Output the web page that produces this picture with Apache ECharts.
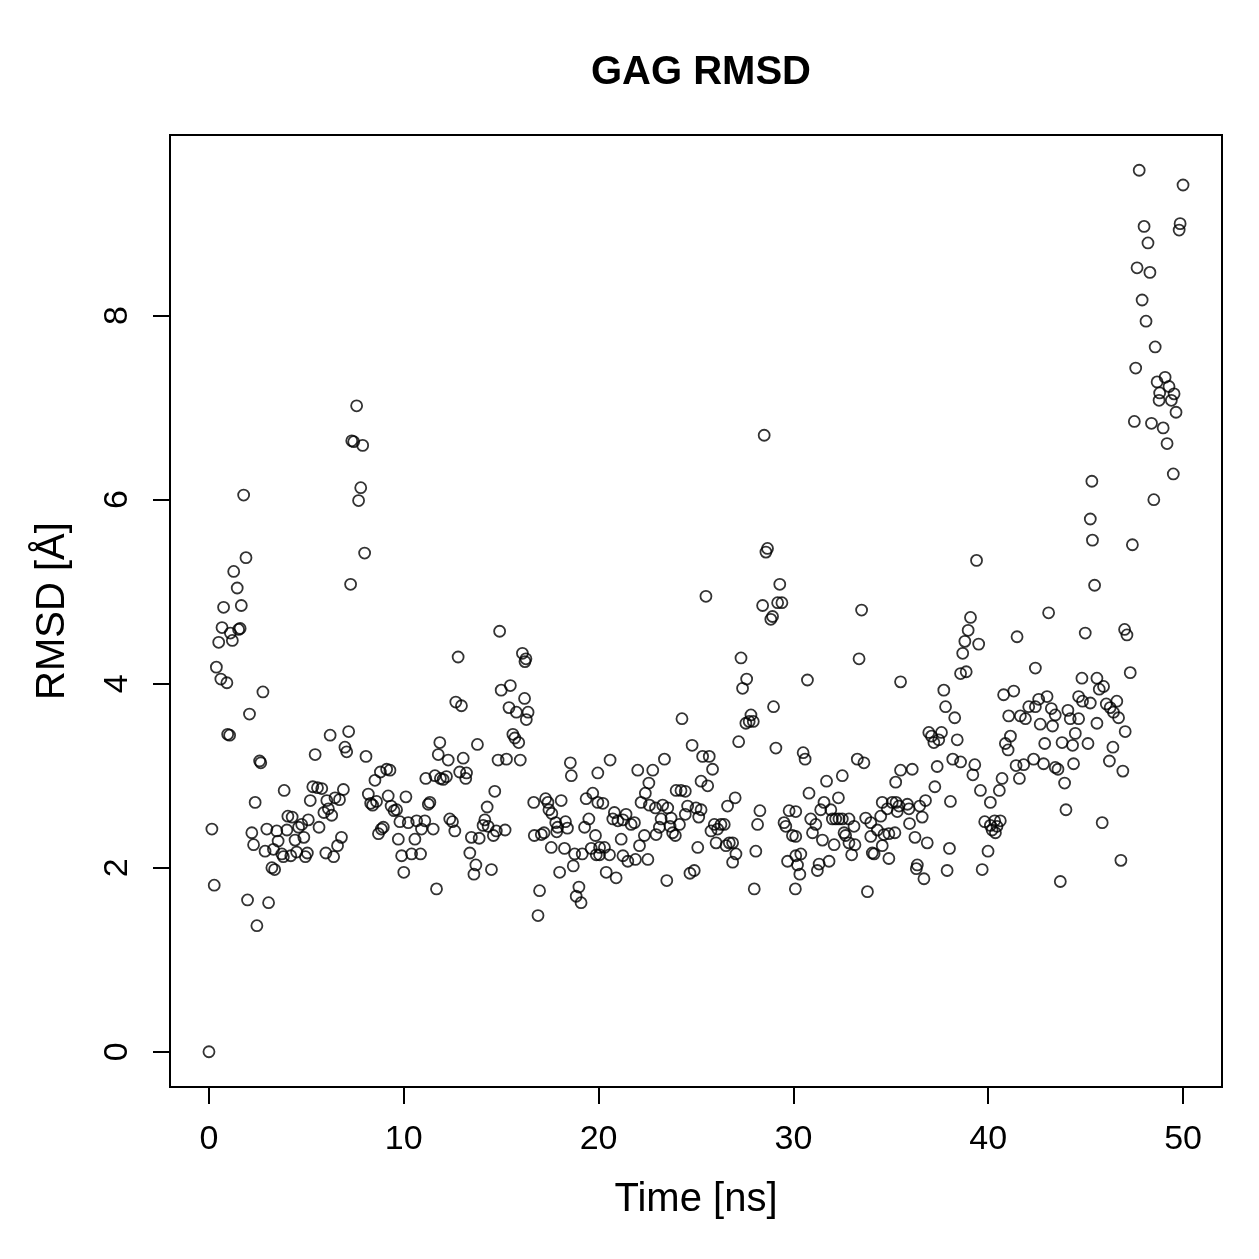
<!DOCTYPE html>
<html>
<head>
<meta charset="utf-8">
<title>GAG RMSD</title>
<script src="https://cdn.jsdelivr.net/npm/echarts@6/dist/echarts.min.js"></script>
<style>
  html, body { margin: 0; padding: 0; background: #fff; }
  #main { width: 1259px; height: 1259px; }
</style>
</head>
<body>
<div id="main"></div>
<script>
// time (ns) and RMSD (A), kept in the same order
var timeNs = [
  // 0 - 4.6
  0, 0.15, 0.27, 0.38, 0.5, 0.61, 0.67, 0.75, 0.92, 0.96, 1.06, 1.1, 1.2, 1.27, 1.45, 1.52, 1.6, 1.66, 1.78, 1.9,
  1.98, 2.08, 2.2, 2.29, 2.37, 2.46, 2.6, 2.66, 2.77, 2.88, 2.97, 3.06, 3.23, 3.31, 3.37, 3.48, 3.55, 3.74, 3.82, 3.86,
  4.0, 4.05, 4.2, 4.27, 4.42, 4.5, 4.6,
  // 4.7 - 9.5
  4.76, 4.87, 4.95, 5.05, 5.1, 5.2, 5.33, 5.45, 5.57, 5.65, 5.79, 5.9, 6.0, 6.05, 6.13, 6.22, 6.3, 6.4, 6.47, 6.6,
  6.7, 6.8, 6.9, 6.98, 7.07, 7.17, 7.27, 7.33, 7.43, 7.58, 7.68, 7.79, 7.89, 7.99, 8.06, 8.18, 8.3, 8.4, 8.52, 8.6,
  8.7, 8.8, 8.85, 8.95, 9.12, 9.2, 9.29, 9.35, 9.5,
  // 9.6 - 15
  9.63, 9.72, 9.8, 9.89, 10.0, 10.11, 10.23, 10.4, 10.57, 10.66, 10.86, 10.91, 11.08, 11.13, 11.26, 11.34, 11.51, 11.6, 11.68, 11.77,
  11.85, 11.88, 12.02, 12.19, 12.28, 12.36, 12.5, 12.62, 12.67, 12.79, 12.87, 12.96, 13.05, 13.18, 13.22, 13.39, 13.47, 13.6, 13.7, 13.78,
  13.87, 14.07, 14.16, 14.28, 14.33, 14.5, 14.6, 14.67, 14.75, 14.84, 14.92, 15.0,
  // 15 - 20
  15.2, 15.27, 15.4, 15.47, 15.6, 15.7, 15.78, 15.9, 15.98, 16.09, 16.2, 16.22, 16.27, 16.29, 16.38, 16.67, 16.7, 16.89, 16.97, 17.06,
  17.2, 17.28, 17.4, 17.45, 17.57, 17.6, 17.8, 17.85, 17.9, 18.0, 18.08, 18.25, 18.3, 18.4, 18.55, 18.6, 18.7, 18.77, 18.85, 18.99,
  19.1, 19.16, 19.28, 19.36, 19.5, 19.62, 19.7, 19.84, 19.88, 19.96, 19.96,
  // 20 - 25
  20.05, 20.05, 20.22, 20.3, 20.39, 20.56, 20.59, 20.73, 20.81, 20.9, 20.99, 21.16, 21.25, 21.25, 21.41, 21.5, 21.67, 21.84, 21.89, 22.01,
  22.1, 22.18, 22.35, 22.4, 22.53, 22.58, 22.61, 22.78, 22.92, 22.95, 23.12, 23.21, 23.29, 23.38, 23.5, 23.55, 23.67, 23.72, 23.8, 23.94,
  23.98, 24.15, 24.23, 24.28, 24.45, 24.45, 24.57, 24.69, 24.8, 24.91, 25.14,
  // 25 - 30
  25.0, 25.09, 25.26, 25.26, 25.34, 25.51, 25.6, 25.68, 25.77, 25.85, 25.94, 26.03, 26.11, 26.28, 26.45, 26.54, 26.62, 26.71, 26.88, 26.88,
  27.01, 27.05, 27.19, 27.31, 27.39, 27.56, 27.6, 27.73, 27.82, 27.94, 27.99, 28.07, 28.16, 28.28, 28.42, 28.5, 28.59, 28.67, 28.84, 28.93,
  28.98, 29.1, 29.19, 29.3, 29.41, 29.52, 29.61, 29.7, 29.78, 29.95, 30.21,
  // 30 - 35.5
  30.1, 30.12, 30.12, 30.12, 30.33, 30.38, 30.5, 30.6, 30.72, 30.8, 30.89, 30.98, 31.15, 31.23, 31.32, 31.4, 31.49, 31.57, 31.7, 31.83,
  31.92, 32.0, 32.09, 32.17, 32.31, 32.34, 32.51, 32.51, 32.6, 32.68, 32.85, 32.85, 32.99, 33.11, 33.16, 33.28, 33.37, 33.5, 33.62, 33.71,
  33.8, 33.97, 33.97, 34.05, 34.14, 34.31, 34.48, 34.56, 34.56, 34.65, 34.82, 34.9, 34.9, 35.07, 35.21, 35.25, 35.33, 35.5, 35.5,
  // 35.5 - 40.4
  35.27, 35.42, 35.85, 35.93, 35.96, 36.1, 36.24, 36.31, 36.36, 36.48, 36.61, 36.7, 36.78, 36.87, 36.95, 37.09, 37.21, 37.26, 37.38, 37.46,
  37.6, 37.72, 37.81, 37.89, 38.01, 38.06, 38.18, 38.28, 38.41, 38.58, 38.58, 38.69, 38.8, 38.87, 38.97, 39.09, 39.21, 39.31, 39.4, 39.51,
  39.6, 39.69, 39.82, 39.99, 40.11, 40.11, 40.2, 40.33, 40.37,
  // 40.4 - 45.9
  40.45, 40.57, 40.62, 40.71, 40.79, 40.88, 41.02, 41.05, 41.14, 41.31, 41.43, 41.48, 41.6, 41.65, 41.82, 41.91, 42.08, 42.33, 42.42, 42.42,
  42.59, 42.67, 42.84, 42.9, 43.02, 43.1, 43.24, 43.3, 43.44, 43.44, 43.58, 43.7, 43.79, 43.92, 43.99, 44.09, 44.21, 44.33, 44.38, 44.47,
  44.64, 44.64, 44.81, 44.84, 44.98, 45.12, 45.24, 45.24, 45.32, 45.35, 45.46, 45.58, 45.58, 45.7, 45.85,
  // 45.9 - 50
  45.92, 46.06, 46.22, 46.26, 46.4, 46.43, 46.6, 46.69, 46.81, 46.91, 47.0, 47.03, 47.12, 47.29, 47.4, 47.5, 47.57, 47.64, 47.75, 47.9,
  48.0, 48.1, 48.2, 48.3, 48.38, 48.5, 48.57, 48.67, 48.77, 48.8, 48.98, 49.08, 49.18, 49.28, 49.4, 49.5, 49.54, 49.64, 49.8, 49.85,
  50.0
];

var rmsd = [
  // 0 - 4.6
  0, 2.42, 1.81, 4.18, 4.45, 4.05, 4.61, 4.83, 4.01, 3.45, 3.44, 4.55, 4.47, 5.22, 5.04, 4.59, 4.60, 4.85, 6.05, 5.37,
  1.65, 3.67, 2.38, 2.25, 2.71, 1.37, 3.16, 3.14, 3.91, 2.18, 2.42, 1.62, 2.0, 2.20, 1.98, 2.40, 2.29, 2.15, 2.12, 2.84,
  2.41, 2.56, 2.13, 2.55, 2.30, 2.17, 2.44,
  // 4.7 - 9.5
  2.47, 2.33, 2.12, 2.16, 2.52, 2.73, 2.88, 3.23, 2.87, 2.44, 2.86, 2.60, 2.16, 2.73, 2.64, 3.44, 2.57, 2.12, 2.76, 2.24,
  2.74, 2.33, 2.85, 3.31, 3.26, 3.48, 5.08, 6.64, 6.63, 7.02, 5.99, 6.13, 6.59, 5.42, 3.21, 2.80, 2.70, 2.68, 2.95, 2.72,
  2.37, 3.04, 2.42, 2.44, 3.07, 2.78, 3.06, 2.67, 2.62,
  // 9.6 - 15
  2.63, 2.31, 2.50, 2.13, 1.95, 2.77, 2.49, 2.15, 2.31, 2.51, 2.15, 2.42, 2.51, 2.97, 2.69, 2.71, 2.42, 3.0, 1.77, 3.23,
  3.36, 2.97, 2.96, 2.99, 3.17, 2.53, 2.50, 2.40, 3.80, 4.29, 3.04, 3.76, 3.19, 2.97, 3.03, 2.16, 2.33, 1.93, 2.03, 3.34,
  2.32, 2.46, 2.52, 2.66, 2.45, 1.98, 2.35, 2.83, 2.40, 3.17, 4.57, 3.93,
  // 15 - 20
  2.41, 3.18, 3.74, 3.98, 3.45, 3.41, 3.69, 3.36, 3.17, 4.33, 3.84, 4.24, 4.27, 3.61, 3.69, 2.71, 2.35, 1.48, 1.75, 2.36,
  2.38, 2.75, 2.71, 2.63, 2.22, 2.59, 2.49, 2.39, 2.44, 1.95, 2.73, 2.21, 2.50, 2.43, 3.14, 3.0, 2.02, 2.15, 1.69, 1.79,
  1.62, 2.15, 2.44, 2.75, 2.53, 2.21, 2.81, 2.35, 2.14, 3.03, 2.71,
  // 20 - 25
  2.22, 2.14, 2.70, 2.22, 1.95, 2.14, 3.17, 2.53, 2.60, 1.89, 2.51, 2.31, 2.52, 2.13, 2.58, 2.07, 2.47, 2.49, 2.09, 3.06,
  2.24, 2.71, 2.35, 2.81, 2.09, 2.92, 2.68, 3.06, 2.65, 2.36, 2.44, 2.53, 2.68, 3.18, 1.86, 2.65, 2.45, 2.54, 2.38, 2.35,
  2.84, 2.47, 2.84, 3.62, 2.83, 2.58, 2.67, 1.94, 3.33, 1.97, 2.55,
  // 25 - 30
  2.65, 2.22, 2.94, 2.63, 3.21, 4.95, 2.89, 3.21, 2.40, 3.07, 2.47, 2.27, 2.42, 2.47, 2.47, 2.24, 2.67, 2.27, 2.27, 2.06,
  2.76, 2.15, 3.37, 4.28, 3.95, 3.57, 4.05, 3.59, 3.66, 3.59, 1.77, 2.18, 2.47, 2.62, 4.85, 6.70, 5.43, 5.47, 4.70, 4.73,
  3.75, 3.30, 4.88, 5.08, 4.88, 2.49, 2.45, 2.07, 2.62, 2.35, 2.03,
  // 30 - 35.5
  1.77, 2.61, 2.34, 2.13, 1.93, 2.15, 3.25, 3.18, 4.04, 2.81, 2.53, 2.38, 2.47, 1.97, 2.04, 2.63, 2.30, 2.71, 2.94, 2.07,
  2.63, 2.53, 2.25, 2.53, 2.76, 2.53, 3.0, 2.53, 2.38, 2.35, 2.53, 2.27, 2.14, 2.45, 2.25, 3.18, 4.27, 4.80, 3.14, 2.54,
  1.74, 2.49, 2.34, 2.16, 2.15, 2.41, 2.56, 2.71, 2.24, 2.36, 2.64, 2.37, 2.10, 2.71, 2.38, 2.93, 2.61, 3.06, 4.02,
  // 35.5 - 40.4
  2.71, 2.67, 2.69, 2.64, 2.48, 3.07, 2.33, 1.99, 2.03, 2.67, 2.55, 1.88, 2.73, 2.27, 3.47, 3.43, 3.36, 2.88, 3.10, 3.39,
  3.47, 3.93, 3.75, 1.97, 2.21, 2.72, 3.18, 3.63, 3.39, 3.15, 4.11, 4.33, 4.46, 4.13, 4.58, 4.72, 3.01, 3.12, 5.34, 4.43,
  2.84, 1.98, 2.50, 2.18, 2.71, 2.46, 2.41, 2.51, 2.38,
  // 40.4 - 45.9
  2.45, 2.84, 2.51, 2.97, 3.88, 3.35, 3.28, 3.65, 3.43, 3.92, 3.11, 4.51, 2.97, 3.65, 3.12, 3.62, 3.75, 3.18, 4.17, 3.75,
  3.83, 3.56, 3.13, 3.35, 3.86, 4.77, 3.73, 3.54, 3.66, 3.09, 3.07, 1.85, 3.36, 2.92, 2.63, 3.71, 3.62, 3.33, 3.13, 3.46,
  3.62, 3.86, 4.06, 3.81, 4.55, 3.35, 5.79, 3.79, 6.20, 5.56, 5.07, 4.06, 3.57, 3.94, 2.49,
  // 45.9 - 50
  3.97, 3.78, 3.16, 3.74, 3.31, 3.69, 3.81, 3.63, 2.08, 3.05, 4.59, 3.48, 4.53, 4.12, 5.51, 6.85, 7.43, 8.52, 9.58, 8.17,
  8.97, 7.94, 8.79, 8.47, 6.83, 6.0, 7.66, 7.28, 7.08, 7.16, 6.78, 7.33, 6.61, 7.23, 7.08, 6.28, 7.15, 6.95, 8.93, 9.0,
  9.42
];

var xTicks = [0, 10, 20, 30, 40, 50];
var yTicks = [0, 2, 4, 6, 8];

var chart = echarts.init(document.getElementById('main'), null, { renderer: 'canvas' });

var points = [];
for (var i = 0; i < timeNs.length; i++) {
  points.push([timeNs[i], rmsd[i]]);
}

// R pads the data range by 4% on each side
var yMaxData = Math.max.apply(null, rmsd);
var yPad = yMaxData * 0.04;

var font = 'Liberation Sans, Arial, Helvetica, sans-serif';

var option = {
  animation: false,
  backgroundColor: '#fff',
  title: {
    text: 'GAG RMSD',
    left: 696,
    top: 48,
    textAlign: 'center',
    textStyle: { fontFamily: font, fontSize: 40, fontWeight: 'bold', color: '#000' }
  },
  grid: {
    left: 170,
    top: 135,
    width: 1052,
    height: 952,
    show: true,
    borderColor: '#000',
    borderWidth: 2,
    backgroundColor: 'transparent',
    containLabel: false,
    outerBoundsMode: 'none'
  },
  xAxis: {
    type: 'value',
    min: -2,
    max: 52,
    name: 'Time [ns]',
    nameLocation: 'middle',
    nameGap: 93,
    nameTextStyle: { fontFamily: font, fontSize: 40, color: '#000' },
    axisLine: { show: false, onZero: false },
    splitLine: { show: false },
    axisTick: {
      show: true,
      inside: false,
      customValues: xTicks,
      length: 17,
      lineStyle: { color: '#000', width: 2 }
    },
    axisLabel: {
      customValues: xTicks,
      margin: 36,
      fontFamily: font,
      fontSize: 34,
      color: '#000'
    }
  },
  yAxis: {
    type: 'value',
    min: -yPad,
    max: yMaxData + yPad,
    name: 'RMSD [Å]',
    nameLocation: 'middle',
    nameGap: 97,
    nameTextStyle: { fontFamily: font, fontSize: 40, color: '#000' },
    axisLine: { show: false, onZero: false },
    splitLine: { show: false },
    axisTick: {
      show: true,
      inside: false,
      customValues: yTicks,
      length: 17,
      lineStyle: { color: '#000', width: 2 }
    },
    axisLabel: {
      customValues: yTicks,
      rotate: 90,
      margin: 35,
      fontFamily: font,
      fontSize: 34,
      color: '#000'
    }
  },
  series: [
    {
      type: 'scatter',
      data: points,
      symbol: 'circle',
      symbolSize: 11,
      silent: true,
      itemStyle: {
        color: 'rgba(0,0,0,0)',
        borderColor: '#000',
        borderWidth: 1.8
      }
    }
  ]
};

chart.setOption(option);
</script>
</body>
</html>
